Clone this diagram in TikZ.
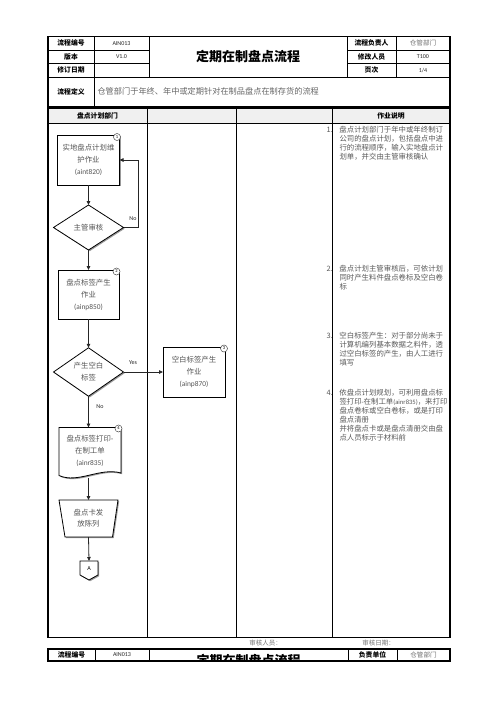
\documentclass[tikz,border=0pt]{standalone}
\usepackage{fontspec}
\setmainfont{Carlito}
\newfontfamily\cjk{Noto Sans CJK SC}
\usetikzlibrary{arrows.meta,shapes.geometric,calc}
\definecolor{txt}{HTML}{555555}
\definecolor{hdrfill}{HTML}{F0F0F0}
\tikzset{
  thick border/.style={draw=black, line width=1.1pt},
  thin line/.style={draw=black, line width=0.6pt},
  lbl/.style={font=\cjk\bfseries\fontsize{6.8}{8}\selectfont, text=black},
  val/.style={font=\fontsize{6}{7}\selectfont, text=black!85},
  valc/.style={font=\cjk\fontsize{6.6}{8}\selectfont, text=black!55},
  ttl/.style={font=\cjk\bfseries\fontsize{13}{15}\selectfont, text=black},
  shp/.style={draw=black, line width=0.8pt, fill=white,
    preaction={fill=black!40, transform canvas={shift={(1.2pt,-1.2pt)}}}},
  ntext/.style={font=\cjk\fontsize{7.4}{12}\selectfont, text=txt, align=center},
  boxnode/.style={shp, rectangle, ntext},
  dianode/.style={shp, diamond, ntext, inner sep=0pt},
  num/.style={circle, draw=black!70, line width=0.5pt, fill=white, minimum size=7pt, inner sep=0pt, font=\fontsize{4.5}{5}\selectfont},
  arr/.style={draw=black!85, line width=0.8pt, -{Triangle[length=4pt,width=3.5pt]}},
  yn/.style={font=\fontsize{6}{7}\selectfont, text=black!85},
  desc/.style={font=\cjk\fontsize{7.4}{9}\selectfont, text=black!65, align=left, anchor=north west},
  sig/.style={font=\cjk\fontsize{6.5}{8}\selectfont, text=black!55},
}
\newcommand{\ci}{\hspace*{13pt}}
\newcommand{\itm}[1]{\makebox[12pt][l]{#1}\hspace*{1pt}}
\newcommand{\lat}[1]{{\fontspec{Carlito}\fontsize{6.6}{9}\selectfont #1}}
\begin{document}
\begin{tikzpicture}[x=1pt,y=-1pt, every node/.append style={inner sep=0pt, outer sep=0pt}]
\fill[white] (0,0) rectangle (496,702);
\useasboundingbox (0,0) rectangle (496,702);

% ---------- header table ----------
\draw[thin line] (48,50) -- (149,50) (48,63.5) -- (149,63.5) (48,77) -- (450,77);
\draw[thin line] (347,50) -- (450,50) (347,63.5) -- (450,63.5);
\draw[thin line] (94,36.5) -- (94,106.5) (149,36.5) -- (149,77) (347,36.5) -- (347,77) (396,36.5) -- (396,77);
\draw[thick border] (48,36.5) rectangle (450,106.5);

\node[lbl] (h11) at (71,43.25) {流程编号};
\node[val] (h12) at (121.5,43.25) {AIN013};
\node[ttl] (htl) at (248,56.75) {定期在制盘点流程};
\node[lbl] (h14) at (371.5,43.25) {流程负责人};
\node[valc] (h15) at (423,43.25) {仓管部门};
\node[lbl] (h21) at (71,56.75) {版本};
\node[val] (h22) at (121.5,56.75) {V1.0};
\node[lbl] (h24) at (371.5,56.75) {修改人员};
\node[val] (h25) at (423,56.75) {T100};
\node[lbl] (h31) at (71,70.25) {修订日期};
\node[lbl] (h34) at (371.5,70.25) {页次};
\node[val] (h35) at (423,70.25) {1/4};
\node[lbl] (h41) at (71,91.75) {流程定义};
\node[font=\cjk\fontsize{8.2}{10}\selectfont, text=black!60, anchor=west] (h42) at (97.5,91.75) {仓管部门于年终、年中或定期针对在制品盘点在制存货的流程};

% ---------- lane table ----------
\fill[hdrfill] (48,108) rectangle (450,123);
\draw[thin line] (48,123) -- (450,123);
\draw[line width=0.8pt] (147,108) -- (147,637.5) (236,108) -- (236,637.5) (332,108) -- (332,637.5);
\draw[thick border] (48,108) rectangle (450,637.5);
\node[lbl] (lane1) at (97.5,115.5) {盘点计划部门};
\node[lbl] (lane4) at (391,115.5) {作业说明};

% ---------- flow ----------
\node[boxnode, minimum width=62pt, minimum height=50pt] (b1) at (88.5,160) {实地盘点计划维\\护作业\\{\fontspec{Carlito}(aint820)}};
\node[num] (c1) at (117,137) {1};
\node[dianode, minimum width=70pt, minimum height=45pt] (d1) at (88.5,227.5) {主管审核};
\node[boxnode, minimum width=61pt, minimum height=49pt] (b2) at (88.5,294.5) {盘点标签产生\\作业\\{\fontspec{Carlito}(ainp850)}};
\node[num] (c2) at (116.5,271.5) {2};
\node[dianode, minimum width=70pt, minimum height=46pt] (d2) at (88.5,372) {产生空白\\标签};
\node[boxnode, minimum width=62pt, minimum height=50pt] (b3) at (194,372) {空白标签产生\\作业\\{\fontspec{Carlito}(ainp870)}};
\node[num] (c3) at (224,348.5) {3};

% document shape
\node[minimum width=62pt, minimum height=47pt, ntext] (doc) at (90,451) {};
\draw[shp] (doc.north west) -- (doc.north east) -- (121,473)
  .. controls (100,467) and (78,484) .. (59,475.5) -- cycle;
\node[ntext] (doctext) at (doc) {盘点标签打印-\\在制工单\\{\fontspec{Carlito}(ainr835)}};
\node[num] (c4) at (118.5,428.5) {4};
\coordinate (docb) at (88.5,477.5);

% manual input (trapezoid)
\node[minimum width=59pt, minimum height=37pt] (trap) at (88.5,518.5) {};
\draw[shp] (trap.north west) -- (trap.north east) -- ($(trap.south east)+(-5.5,0)$) -- ($(trap.south west)+(6,0)$) -- cycle;
\node[ntext, font=\cjk\fontsize{7.4}{11}\selectfont] (traptext) at (trap) {盘点卡发\\放陈列};

% off-page connector
\node[minimum width=18pt, minimum height=19pt] (offp) at (89,570.5) {};
\draw[shp] (80,561) -- (98,561) -- (98,575) -- (89,580) -- (80,575) -- cycle;
\node[font=\fontsize{6}{7}\selectfont, text=black] (offA) at (89,568.5) {A};

% connectors
\coordinate (loopx) at (138,160);
\draw[arr] (b1.south) -- (d1.north);
\draw[arr] (d1.east) -| (loopx) -- (b1.east);
\node[yn] (no1) at (133,219) {No};
\draw[arr] (d1.south) -- (b2.north);
\draw[arr] (b2.south) -- (d2.north);
\draw[arr] (d2.east) -- (b3.west);
\node[yn] (yes) at (133,363) {Yes};
\draw[arr] (d2.south) -- (d2.south |- doc.north);
\node[yn] (no2) at (100,407) {No};
\draw[arr] (docb) -- (trap.north);
\draw[arr] (trap.south) -- (offp.north);

% ---------- descriptions ----------
\node[desc] (t1) at (326.5,126.3) {\itm{1.}盘点计划部门于年中或年终制订\\\ci 公司的盘点计划，包括盘点中进\\\ci 行的流程顺序，输入实地盘点计\\\ci 划单，并交由主管审核确认};
\node[desc] (t2) at (326.5,265.5) {\itm{2.}盘点计划主管审核后，可依计划\\\ci 同时产生料件盘点卷标及空白卷\\\ci 标};
\node[desc] (t3) at (326.5,332) {\itm{3.}空白标签产生：对于部分尚未于\\\ci 计算机编列基本数据之料件，透\\\ci 过空白标签的产生，由人工进行\\\ci 填写};
\node[desc] (t4) at (326.5,389) {\itm{4.}依盘点计划规划，可利用盘点标\\\ci 签打印\lat{-}在制工单\lat{(ainr835)}，来打印\\\ci 盘点卷标或空白卷标，或是打印\\\ci 盘点清册\\\ci 并将盘点卡或是盘点清册交由盘\\\ci 点人员标示于材料前};

% ---------- signatures ----------
\node[sig] (s1) at (265.5,643) {审核人员：};
\node[sig] (s2) at (378.5,643) {审核日期：};

% ---------- footer ----------
\begin{scope}
\clip (149,649) rectangle (348,661);
\node[ttl] (ftl) at (248.5,660) {定期在制盘点流程};
\end{scope}
\draw[thin line] (95,649) -- (95,661) (149,649) -- (149,661) (348,649) -- (348,661) (397,649) -- (397,661);
\draw[thick border] (48,649) rectangle (450,661);
\node[lbl] (f1) at (71.5,655) {流程编号};
\node[val] (f2) at (122,655) {AIN013};
\node[lbl] (f4) at (372.5,655) {负责单位};
\node[valc] (f5) at (423.5,655) {仓管部门};
\end{tikzpicture}
\end{document}
